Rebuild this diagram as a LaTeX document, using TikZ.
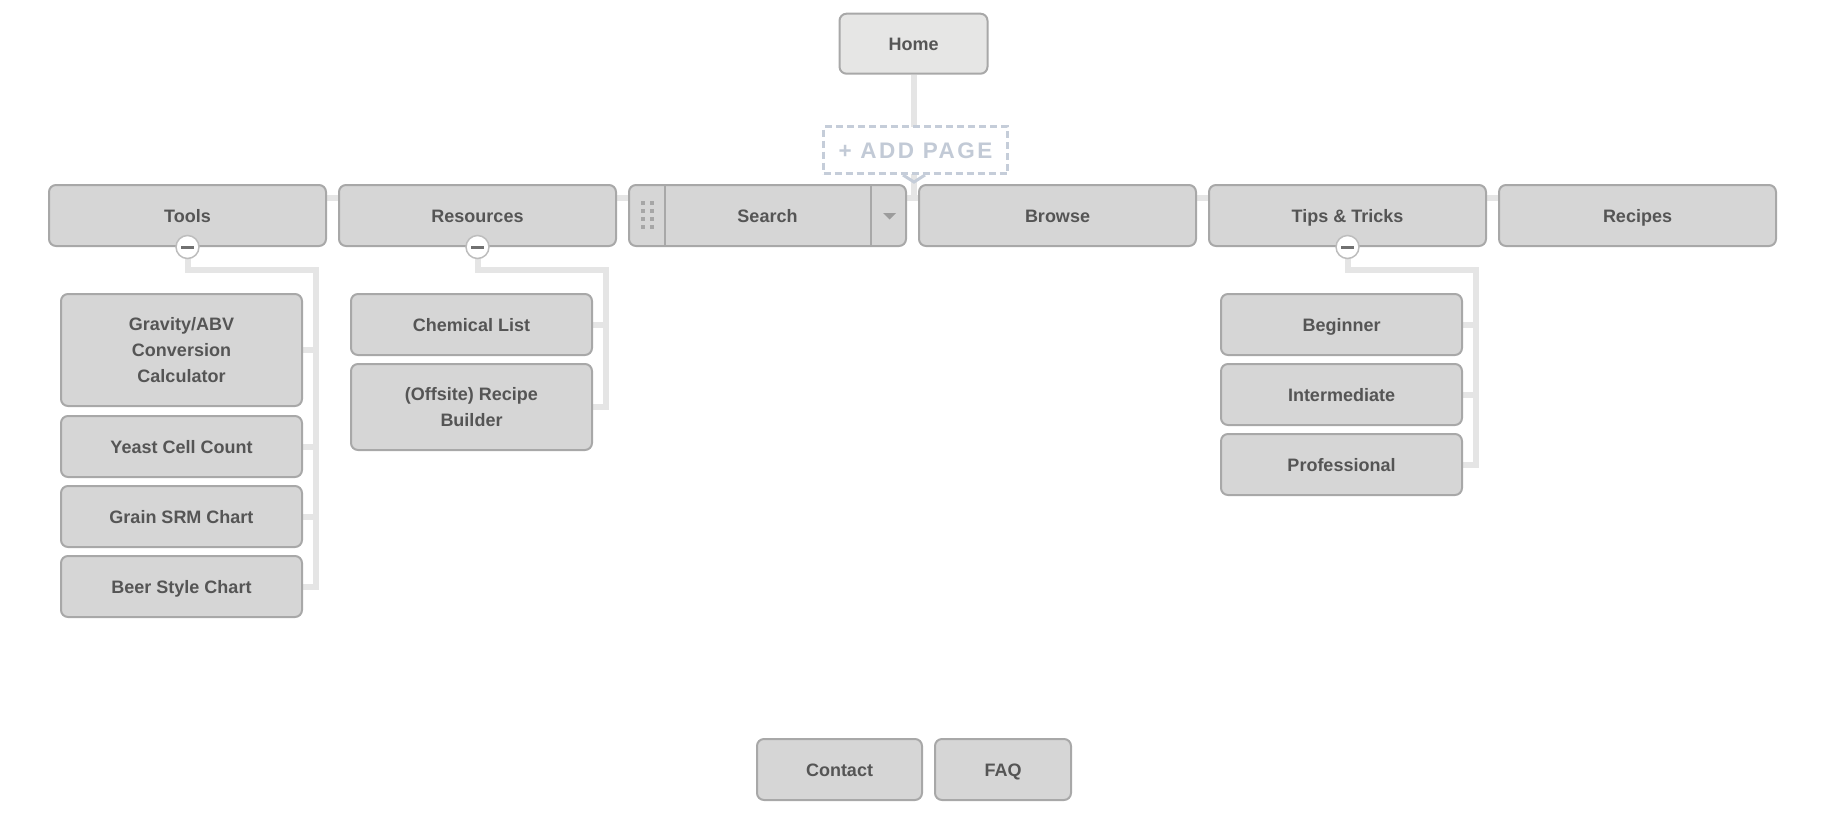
\documentclass[tikz,border=0pt]{standalone}
\usepackage{fontspec}
\setmainfont{Liberation Sans}
\newfontfamily\addpagefont{Liberation Sans}[LetterSpace=11]
\usetikzlibrary{backgrounds}
\definecolor{boxfill}{HTML}{D6D6D6}
\definecolor{homefill}{HTML}{E6E6E5}
\definecolor{boxline}{HTML}{A8A8A8}
\definecolor{labeltext}{HTML}{555555}
\definecolor{connc}{HTML}{E5E5E5}
\definecolor{addc}{HTML}{C5CDD9}
\definecolor{addtext}{HTML}{C2CAD6}
\definecolor{dotc}{HTML}{A6A6A6}
\definecolor{tric}{HTML}{9C9C9C}
\definecolor{minusline}{HTML}{BDBDBD}
\definecolor{minusbarc}{HTML}{717171}
\begin{document}
\begin{tikzpicture}[x=1pt,y=-1pt,
  box/.style={draw=boxline, fill=boxfill, line width=2pt, rounded corners=7pt,
    text=labeltext, font=\fontsize{18}{25.7}\selectfont\bfseries, align=center, inner sep=0pt},
  one/.style={text height=13.5pt, text depth=0pt},
  topbox/.style={box, one, minimum width=277pt, minimum height=61pt},
  childbox/.style={box, minimum width=241pt, minimum height=61pt},
  conn/.style={draw=connc, line width=6pt, line join=miter},
  minus/.style={circle, draw=minusline, fill=white, line width=1.5pt, minimum size=23pt, inner sep=0pt},
  minusbar/.style={draw=minusbarc, line width=3pt},
  sepline/.style={draw=boxline, line width=2pt},
  addbox/.style={draw=addc, dash pattern=on 7pt off 4pt, line width=3pt, fill=white,
    text=addtext, font=\fontsize{22.5}{26}\selectfont, inner sep=0pt, text height=16pt, text depth=0pt},
]
\useasboundingbox (0,0) rectangle (1828,812);

% Home
\node[box, one, fill=homefill, minimum width=148pt, minimum height=60pt] (Home) at (913.5,43.7) {Home};

% top row
\node[topbox] (Tools) at (187.5,215.5) {Tools};
\node[topbox] (Resources) at (477.5,215.5) {Resources};
\node[topbox] (Search) at (767.5,215.5) {Search};
\node[topbox] (Browse) at (1057.5,215.5) {Browse};
\node[topbox] (Tips) at (1347.5,215.5) {Tips \& Tricks};
\node[topbox] (Recipes) at (1637.5,215.5) {Recipes};

% search extras
\draw[sepline] ([xshift=-102.5pt]Search.north) -- ([xshift=-102.5pt]Search.south);
\draw[sepline] ([xshift=103.5pt]Search.north) -- ([xshift=103.5pt]Search.south);
\foreach \dx in {643,652} \foreach \dy in {203,211,219,227}
  \fill[dotc] (\dx-1.75,\dy-1.75) rectangle ++(3.5,3.5);
\fill[tric] (883,213) -- (896,213) -- (889.5,219.5) -- cycle;

% add page
\node[addbox, minimum width=184pt, minimum height=47pt] (Add) at (915.5,150) {\addpagefont\bfseries + ADD PAGE};
\draw[draw=addc, line width=3pt] (903,175) -- (914,182) -- (925,175);

% children: Tools
\node[childbox, minimum height=112pt] (Gravity) at (181.5,350) {Gravity/ABV\\Conversion\\Calculator};
\node[childbox, one] (Yeast) at (181.5,446.5) {Yeast Cell Count};
\node[childbox, one] (Grain) at (181.5,516.5) {Grain SRM Chart};
\node[childbox, one] (Beer) at (181.5,586.5) {Beer Style Chart};

% children: Resources
\node[childbox, one] (Chemical) at (471.5,324.5) {Chemical List};
\node[childbox, minimum height=86pt] (Offsite) at (471.5,407) {(Offsite) Recipe\\Builder};

% children: Tips
\node[childbox, one] (Beginner) at (1341.5,324.5) {Beginner};
\node[childbox, one] (Intermediate) at (1341.5,394.5) {Intermediate};
\node[childbox, one] (Professional) at (1341.5,464.5) {Professional};

% bottom
\node[box, one, minimum width=165pt, minimum height=61pt] (Contact) at (839.5,769.5) {Contact};
\node[box, one, minimum width=136pt, minimum height=61pt] (FAQ) at (1003,769.5) {FAQ};

% minus toggles
\node[minus] (tm) at (Tools.south) {};
\node[minus] (rm) at (Resources.south) {};
\node[minus] (pm) at (Tips.south) {};
\foreach \m in {tm,rm,pm}
  \draw[minusbar] ([xshift=-6.5pt]\m.center) -- ([xshift=6.5pt]\m.center);

% connectors
\begin{pgfonlayer}{background}
\coordinate (rowY) at (0,197.5);
\draw[conn] (Tools.east |- rowY) -- (Recipes.west |- rowY);
\draw[conn] (Home.south) -- (Home.south |- rowY);
\coordinate (tv) at (316,270);
\draw[conn] (tm.center) |- (tv) |- (Beer.east);
\draw[conn] (Gravity.east) -- (Gravity.east -| tv);
\draw[conn] (Yeast.east) -- (Yeast.east -| tv);
\draw[conn] (Grain.east) -- (Grain.east -| tv);
\coordinate (rv) at (606,270);
\draw[conn] (rm.center) |- (rv) |- (Offsite.east);
\draw[conn] (Chemical.east) -- (Chemical.east -| rv);
\coordinate (pv) at (1476,270);
\draw[conn] (pm.center) |- (pv) |- (Professional.east);
\draw[conn] (Beginner.east) -- (Beginner.east -| pv);
\draw[conn] (Intermediate.east) -- (Intermediate.east -| pv);
\end{pgfonlayer}
\end{tikzpicture}
\end{document}
